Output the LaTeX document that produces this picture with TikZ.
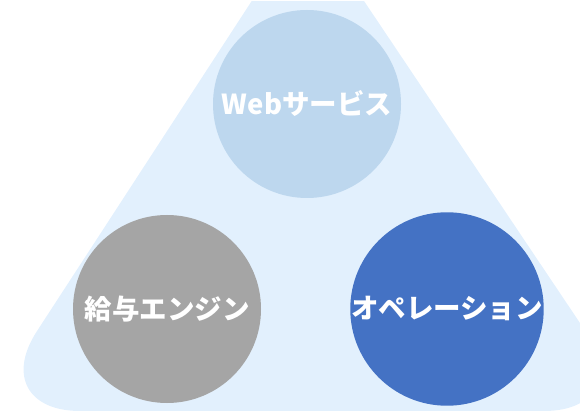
\documentclass[tikz,border=0pt]{standalone}
\usepackage{fontspec}
\newfontfamily\jpfont{Noto Sans CJK JP}
\definecolor{bgblue}{HTML}{E2F0FD}
\definecolor{lightblue}{HTML}{BDD7EE}
\definecolor{midgray}{HTML}{A5A5A5}
\definecolor{darkblue}{HTML}{4472C4}
\tikzset{
	ball/.style={circle, minimum size=188pt, inner sep=0pt, text=white,
		font=\jpfont\bfseries\fontsize{27.5}{27.5}\selectfont}
}
\begin{document}
\begin{tikzpicture}[x=1pt,y=-1pt]
		\useasboundingbox (0,0) rectangle (580,411);
		\clip (0,2) rectangle (580,411);
		% background triangle
		\coordinate (top) at (307,-84);
		\coordinate (bl) at (-15,411);
		\coordinate (br) at (639,411);
		\fill[bgblue, rounded corners=95pt] (top) -- (bl) -- (br) -- cycle;
		% circles
		\node[ball, fill=lightblue] (web) at (307,104) {Webサービス};
		\node[ball, fill=midgray] (kyuyo) at (167,309) {給与エンジン};
		\node[ball, fill=darkblue] (ope) at (447,309) {オペレーション};
	\end{tikzpicture}
\end{document}
